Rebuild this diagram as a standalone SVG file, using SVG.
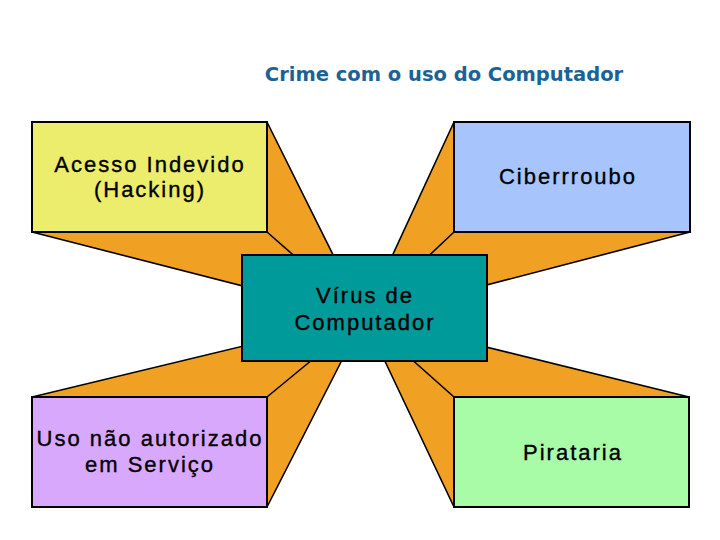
<svg xmlns="http://www.w3.org/2000/svg" width="720" height="540" viewBox="0 0 720 540">
<style>
.face{fill:#F0A023;stroke:#000;stroke-width:1.6;stroke-linejoin:round}
.edge{stroke:#000;stroke-width:1.6;fill:none}
.box{stroke:#000;stroke-width:2}
.lbl{font-family:"Liberation Sans",Arial,sans-serif;font-size:22px;fill:#000;stroke:#000;stroke-width:0.35;text-anchor:middle;letter-spacing:2px}
.title{font-family:"DejaVu Sans",Verdana,sans-serif;font-weight:bold;font-size:19.5px;fill:#1B6394;text-anchor:middle}
</style>
<rect width="720" height="540" fill="#fff"/>
<text class="title" x="444" y="81">Crime com o uso do Computador</text>
<g id="connectors">
<polygon class="face" points="267,122 364,317 32,232 267,232"/>
<line class="edge" x1="267" y1="232" x2="364" y2="317"/>
<polygon class="face" points="454,122 364,317 690,232 454,232"/>
<line class="edge" x1="454" y1="232" x2="364" y2="317"/>
<polygon class="face" points="32,397 364,317 267,507 267,397"/>
<line class="edge" x1="267" y1="397" x2="364" y2="317"/>
<polygon class="face" points="689,397 364,317 454,507 454,397"/>
<line class="edge" x1="454" y1="397" x2="364" y2="317"/>
</g>
<g id="hacking">
<rect class="box" x="32" y="122" width="235" height="110" fill="#ECEC6D"/>
<text class="lbl" x="150" y="172">Acesso Indevido</text>
<text class="lbl" x="150" y="197">(Hacking)</text>
</g>
<g id="ciberroubo">
<rect class="box" x="454" y="122" width="236" height="110" fill="#A8C4FC"/>
<text class="lbl" x="568" y="184">Ciberrroubo</text>
</g>
<g id="uso">
<rect class="box" x="32" y="397" width="235" height="110" fill="#D8A8FC"/>
<text class="lbl" x="150" y="446">Uso não autorizado</text>
<text class="lbl" x="150" y="472">em Serviço</text>
</g>
<g id="pirataria">
<rect class="box" x="454" y="397" width="235" height="110" fill="#A8FCA8"/>
<text class="lbl" x="573" y="460">Pirataria</text>
</g>
<g id="virus">
<rect class="box" x="242" y="255" width="245" height="106" fill="#009A9A"/>
<text class="lbl" x="365" y="303">Vírus de</text>
<text class="lbl" x="365" y="330">Computador</text>
</g>
</svg>
